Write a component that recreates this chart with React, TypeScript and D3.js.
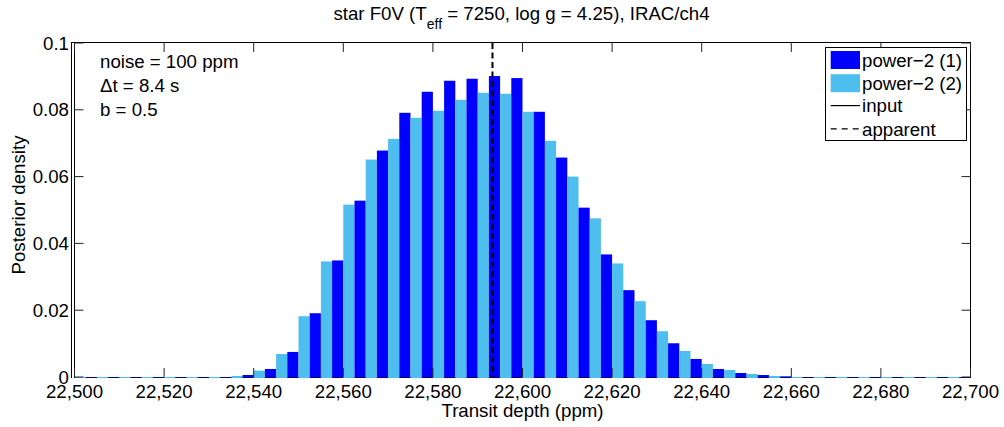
import React from 'react';
import * as d3 from 'd3';

// Histogram bins (left edges, ppm), bin width 5 ppm
const binLeftEdges = [
  22500, 22505, 22510, 22515, 22520, 22525, 22530, 22535, 22540, 22545,
  22550, 22555, 22560, 22565, 22570, 22575, 22580, 22585, 22590, 22595,
  22600, 22605, 22610, 22615, 22620, 22625, 22630, 22635, 22640, 22645,
  22650, 22655, 22660, 22665, 22670, 22675, 22680, 22685, 22690, 22695,
];
const binWidth = 5;

// power-2 (1): dark blue, right half of each bin
const power2Series1 = [
  0, 0, 0, 0, 0, 0, 0, 0.0006, 0.0024, 0.0075,
  0.0191, 0.0349, 0.0528, 0.0678, 0.0791, 0.0854, 0.0887, 0.0893, 0.0901, 0.0895,
  0.0794, 0.0657, 0.0507, 0.0367, 0.026, 0.017, 0.0101, 0.0054, 0.0024, 0.0012,
  0.0006, 0.0002, 0, 0, 0, 0, 0, 0, 0, 0,
];
// power-2 (2): light blue, left half of each bin
const power2Series2 = [
  0, 0, 0, 0, 0, 0, 0, 0.0003, 0.0019, 0.0069,
  0.0182, 0.0346, 0.0516, 0.0651, 0.0713, 0.0776, 0.0797, 0.083, 0.0851, 0.0848,
  0.0794, 0.0707, 0.06, 0.0475, 0.034, 0.0227, 0.0137, 0.0078, 0.0039, 0.0021,
  0.0009, 0.0003, 0, 0, 0, 0, 0, 0, 0, 0,
];

const apparentDepth = 22593.3;

const xTicks = [22500, 22520, 22540, 22560, 22580, 22600, 22620, 22640, 22660, 22680, 22700];
const yTicks = [0, 0.02, 0.04, 0.06, 0.08, 0.1];
const yTickLabels = ['0', '0.02', '0.04', '0.06', '0.08', '0.1'];

const annotations = ['noise = 100 ppm', '\u0394t = 8.4 s', 'b = 0.5'];
const legendLabels = ['power\u22122 (1)', 'power\u22122 (2)', 'input', 'apparent'];

const DARK = '#0000ff';
const LIGHT = '#4dbeee';
const FONT = '"Liberation Sans", Arial, Helvetica, sans-serif';
const FS = 18.67;

export default function App() {
  const W = 1004;
  const H = 427;
  const left = 74.5;
  const right = 970.5;
  const top = 43;
  const bottom = 377;

  const x = d3.scaleLinear().domain([22500, 22700]).range([left, right]);
  const y = d3.scaleLinear().domain([0, 0.1]).range([bottom, top]);
  const fmt = d3.format(',');
  const tickLen = 9;

  const legX = 825.5;
  const legY = 47.5;
  const legW = 141;
  const legH = 93;
  const rowY = [60, 83.2, 105.6, 128.8];

  return (
    <svg
      width={W}
      height={H}
      style={{ position: 'absolute', left: 0, top: 0, background: '#fff' }}
      fontFamily={FONT}
    >
      <rect x={0} y={0} width={W} height={H} fill="#fff" />

      {/* baseline strip */}
      <rect x={left} y={bottom} width={right - left} height={1} fill="#00007f" />

      {/* bars */}
      {binLeftEdges.map((lo, i) => {
        const v2 = power2Series2[i];
        const v1 = power2Series1[i];
        const xl0 = x(lo);
        const xm = x(lo + binWidth / 2);
        const xr = x(lo + binWidth);
        return (
          <g key={lo}>
            <rect x={xl0} y={y(v2)} width={xm - xl0} height={bottom + 1 - y(v2)} fill={LIGHT} />
            {v1 > 0 && (
              <rect x={xm} y={y(v1)} width={xr - xm} height={bottom - y(v1)} fill={DARK} />
            )}
          </g>
        );
      })}

      {/* apparent depth line */}
      <line
        x1={x(apparentDepth)}
        x2={x(apparentDepth)}
        y1={top}
        y2={bottom + 1}
        stroke="#000"
        strokeWidth={2}
        strokeDasharray="6,3.5"
      />

      {/* spines */}
      <line x1={71.5} x2={right} y1={top - 0.5} y2={top - 0.5} stroke="#000" strokeWidth={1} />
      <line x1={right} x2={right} y1={top - 1} y2={bottom + 1} stroke="#000" strokeWidth={1} />
      <line x1={left} x2={left} y1={top - 1} y2={bottom + 1} stroke="#000" strokeWidth={1} />
      <line x1={71.5} x2={71.5} y1={top - 1} y2={bottom + 1} stroke="#000" strokeWidth={1} />

      {/* x ticks */}
      {xTicks.map((t) => (
        <g key={t}>
          <line x1={x(t)} x2={x(t)} y1={bottom} y2={bottom - tickLen} stroke="#222" strokeWidth={1} />
          <line x1={x(t)} x2={x(t)} y1={top} y2={top + tickLen} stroke="#222" strokeWidth={1} />
          <text x={x(t)} y={398} fontSize={FS} textAnchor="middle" fill="#000">
            {fmt(t)}
          </text>
        </g>
      ))}

      {/* y ticks */}
      {yTicks.map((t, i) => (
        <g key={t}>
          <line x1={left} x2={left + tickLen} y1={y(t)} y2={y(t)} stroke="#222" strokeWidth={1} />
          <line x1={right} x2={right - tickLen} y1={y(t)} y2={y(t)} stroke="#222" strokeWidth={1} />
          <text x={69} y={y(t) + 6.5} fontSize={FS} textAnchor="end" fill="#000">
            {yTickLabels[i]}
          </text>
        </g>
      ))}

      {/* title */}
      <text x={521.5} y={20} fontSize={FS} textAnchor="middle" fill="#000">
        <tspan>star F0V (T</tspan>
        <tspan fontSize={14} dy={9}>eff</tspan>
        <tspan dy={-9}> = 7250, log g = 4.25), IRAC/ch4</tspan>
      </text>

      {/* axis labels */}
      <text x={522.5} y={417} fontSize={FS} textAnchor="middle" fill="#000">
        Transit depth (ppm)
      </text>
      <text
        transform={`translate(25, ${(top + bottom) / 2 - 5}) rotate(-90)`}
        fontSize={FS}
        textAnchor="middle"
        fill="#000"
      >
        Posterior density
      </text>

      {/* annotations */}
      {annotations.map((a, i) => (
        <text key={a} x={100} y={68.3 + i * 23.7} fontSize={FS} fill="#000">
          {a}
        </text>
      ))}

      {/* legend */}
      <rect x={legX} y={legY} width={legW} height={legH} fill="#fff" stroke="#000" strokeWidth={1} />
      <rect x={830.7} y={rowY[0] - 9} width={29.3} height={18} fill={DARK} />
      <rect x={830.7} y={rowY[1] - 9} width={29.3} height={18} fill={LIGHT} />
      <line x1={830.7} x2={860} y1={rowY[2]} y2={rowY[2]} stroke="#000" strokeWidth={1.2} />
      <line x1={830.7} x2={860} y1={rowY[3]} y2={rowY[3]} stroke="#000" strokeWidth={1.2} strokeDasharray="6,5" />
      {legendLabels.map((l, i) => (
        <text key={l} x={862} y={rowY[i] + 6.7} fontSize={FS} fill="#000">
          {l}
        </text>
      ))}
    </svg>
  );
}
